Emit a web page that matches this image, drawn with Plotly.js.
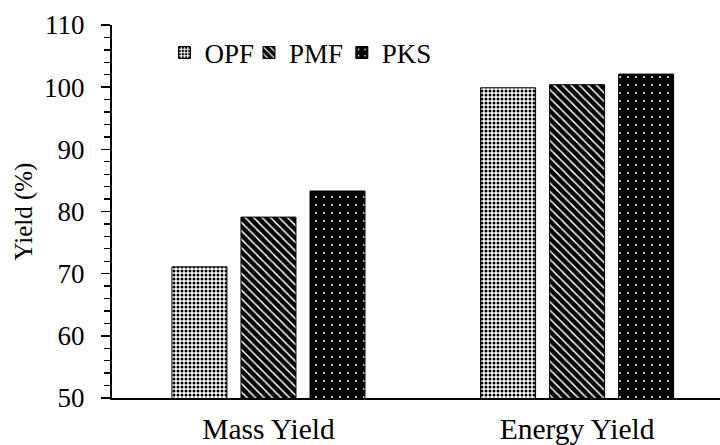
<!DOCTYPE html>
<html><head><meta charset="utf-8">
<script src="https://cdn.plot.ly/plotly-3.0.1.min.js"></script>
<style>body{margin:0;background:#fff}#c{width:720px;height:445px}</style>
</head><body><div id="c"></div>
<script>
const categories = ["Mass Yield", "Energy Yield"];
const seriesNames = ["OPF", "PMF", "PKS"];
const opf = [71.1, 99.9];
const pmf = [79.1, 100.4];
const pks = [83.3, 102.1];
const yTicks = [50, 60, 70, 80, 90, 100, 110];

const font = "Liberation Serif";
const styles = [
  {bgcolor: "white", fgcolor: "black", shape: ".", size: 4, solidity: 0.45},
  {bgcolor: "black", fgcolor: "white", shape: "\\", size: 6, solidity: 0.25},
  {bgcolor: "black", fgcolor: "white", shape: ".", size: 8, solidity: 0.05}
];
const legendIds = ["legend", "legend2", "legend3"];
const legendX = [0.0863, 0.2253, 0.378];
const vals = [opf, pmf, pks];
const data = seriesNames.map((n, i) => ({
  type: "bar", name: n, x: [0, 1], y: vals[i], legend: legendIds[i],
  marker: {color: styles[i].bgcolor, line: {color: "black", width: 1},
    pattern: {shape: styles[i].shape, fgcolor: styles[i].fgcolor, bgcolor: styles[i].bgcolor,
      size: styles[i].size, solidity: styles[i].solidity, fillmode: "replace"}}
}));

const legendBase = {orientation: "h", y: 0.925, xanchor: "left", yanchor: "middle",
  font: {family: font, size: 27, color: "black"}, bgcolor: "rgba(0,0,0,0)", borderwidth: 0};
const layout = {
  width: 720, height: 445,
  margin: {l: 112, r: 0, t: 25, b: 47},
  paper_bgcolor: "white", plot_bgcolor: "white",
  font: {family: font, size: 26, color: "black"},
  barmode: "group", bargap: 0.329, bargroupgap: 0.203,
  showlegend: true,
  legend: Object.assign({}, legendBase, {x: legendX[0]}),
  legend2: Object.assign({}, legendBase, {x: legendX[1]}),
  legend3: Object.assign({}, legendBase, {x: legendX[2]}),
  xaxis: {range: [-0.507, 1.463], tickvals: [0, 1], ticktext: categories, showline: true,
    linecolor: "black", linewidth: 2, ticks: "", showgrid: false, zeroline: false,
    tickfont: {family: font, size: 29.5}, ticklabelstandoff: 4},
  yaxis: {range: [50, 110], tickvals: yTicks, ticktext: yTicks.map(String),
    showline: true, linecolor: "black", linewidth: 2, ticks: "outside", ticklen: 9, tickwidth: 1.5,
    tickcolor: "black", showgrid: false, zeroline: false, ticklabelstandoff: 11,
    minor: {dtick: 2, ticks: "outside", ticklen: 6, tickwidth: 1.3, tickcolor: "black"},
    tickfont: {family: font, size: 27},
    title: {text: "Yield (%)", font: {family: font, size: 25}, standoff: 4}}
};
Plotly.newPlot("c", data, layout, {staticPlot: true});
</script></body></html>
